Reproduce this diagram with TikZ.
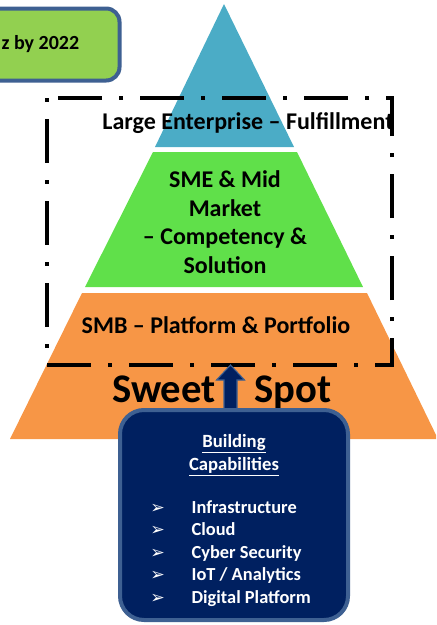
\documentclass[tikz,border=0pt]{standalone}
\usepackage{fontspec}
\setmainfont{Carlito}
\newfontfamily\dingfont{DejaVu Sans}
\usetikzlibrary{positioning, calc}
\definecolor{tipblue}{RGB}{75, 172, 198}
\definecolor{midgreen}{RGB}{96, 224, 74}
\definecolor{baseorange}{RGB}{247, 150, 70}
\definecolor{capnavy}{RGB}{0, 32, 96}
\definecolor{capedge}{RGB}{62, 96, 146}
\definecolor{goalgreen}{RGB}{146, 208, 80}
\tikzstyle{layer} = [font=\fontsize{18}{21.4}\selectfont\bfseries, align=center, inner sep=0pt]
\tikzstyle{sweet} = [font=\fontsize{30.5}{34}\selectfont\bfseries, inner sep=0pt]
\tikzstyle{focus} = [draw=black, line width=3.4pt, dash pattern=on 3pt off 12.75pt on 33pt off 12.75pt]
\tikzstyle{uparrow} = [draw=capedge, line width=0.8pt, fill=capnavy]
\tikzstyle{capbox} = [rectangle, rounded corners=18pt, draw=capedge, line width=3pt, fill=capnavy, minimum width=171pt, minimum height=157.5pt]
\tikzstyle{captitle} = [font=\fontsize{14}{17}\selectfont\bfseries, text=white, inner sep=0pt]
\tikzstyle{item} = [font=\fontsize{13.8}{16}\selectfont\bfseries, text=white, inner sep=0pt, anchor=base west]
\tikzstyle{goalbox} = [rectangle, rounded corners=10pt, draw=capedge, line width=3pt, fill=goalgreen, minimum width=120pt, minimum height=54pt]
\tikzstyle{goaltext} = [font=\fontsize{15}{18}\selectfont\bfseries, inner sep=0pt]
\newcommand{\bul}{\makebox[31pt][l]{\dingfont\fontsize{13}{14}\selectfont ➢}}

\begin{document}
\begin{tikzpicture}[x=0.75pt, y=-0.75pt]
\useasboundingbox (0,0) rectangle (436,625);
\clip (0,0) rectangle (436,625);

% Pyramid layers
\fill[baseorange] (82,293) -- (367,293) -- (438,439) -- (10,439) -- cycle;
\fill[midgreen] (153,152) -- (297,152) -- (363,287) -- (85,287) -- cycle;
\fill[tipblue] (224,4) -- (294,147) -- (155,147) -- cycle;

% Layer labels
\node[layer, anchor=base] (large) at (248,129) {Large Enterprise – Fulfillment};
\node[layer] (sme) at (225,222) {SME \& Mid\\Market\\– Competency \&\\Solution};
\node[layer, anchor=base] (smb) at (216,333) {SMB – Platform \& Portfolio};

% Focus frame
\draw[focus] (47,98) rectangle (392,365);

% Sweet spot
\node[sweet, anchor=base east] (sweet) at (216,402) {Sweet};
\node[sweet, anchor=base west] (spot) at (254,402) {Spot};
\coordinate (tip) at (230.5,365);
\draw[uparrow] (tip) -- ++(14,15) -- ++(-7.5,0) -- ++(0,40) -- ++(-13,0) -- ++(0,-40) -- ++(-7.5,0) -- cycle;

% Building capabilities
\node[capbox] (cap) at (234,515) {};
\node[captitle, anchor=base] (build) at ($(cap.north)+(0,39)$) {\underline{Building}};
\node[captitle, anchor=base] (capab) at ($(cap.north)+(0,62)$) {\underline{Capabilities}};
\foreach \txt [count=\i] in {Infrastructure, Cloud, Cyber Security, {IoT / Analytics}, Digital Platform}
  \node[item] (item\i) at ($(cap.north west)+(32,{82.5+22.5*\i})$) {\bul\txt};

% Target box (cut at left edge)
\node[goalbox, anchor=east] (goal) at (121.5,44.5) {};
\node[goaltext, left=31.5pt of goal.east] (goaltxt) {z by 2022};

\end{tikzpicture}
\end{document}
